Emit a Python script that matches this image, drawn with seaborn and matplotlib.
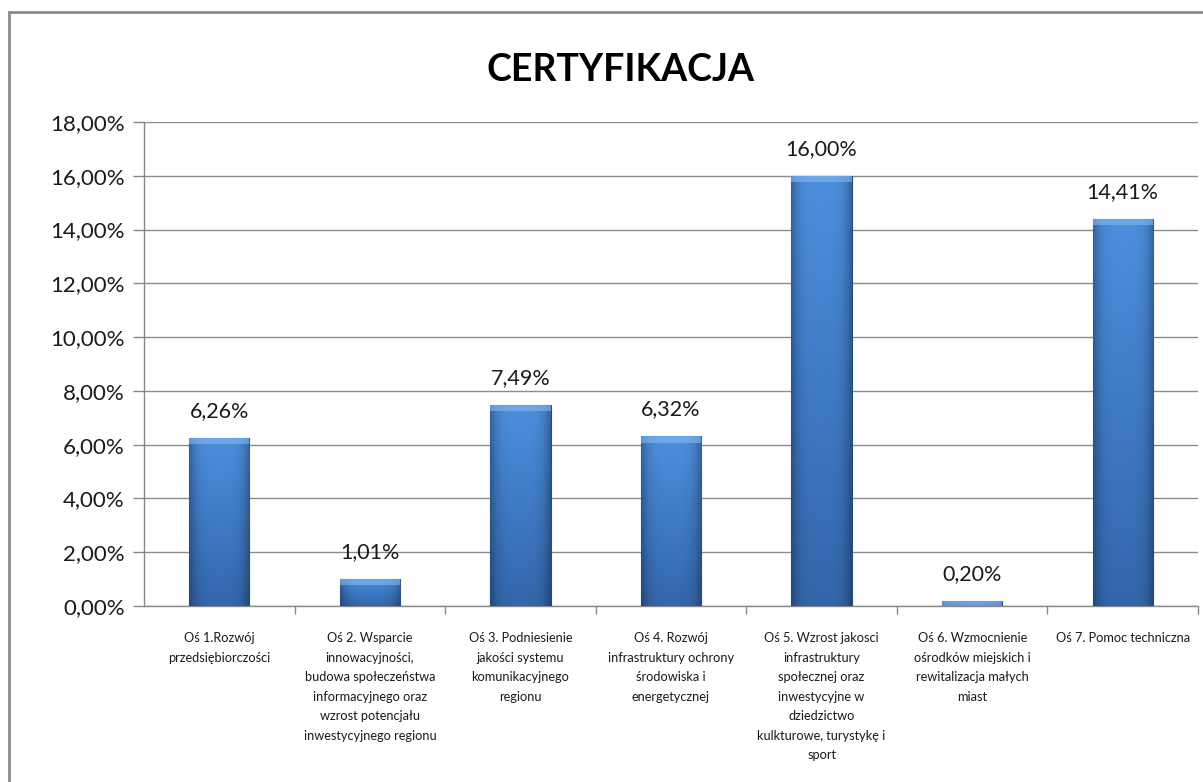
import numpy as np
import matplotlib
matplotlib.use("Agg")
import matplotlib.pyplot as plt
from matplotlib.patches import Rectangle
from matplotlib.ticker import FuncFormatter, FixedLocator
import seaborn as sns

# data
categories = [
    "Oś 1.Rozwój\nprzedsiębiorczości",
    "Oś 2. Wsparcie\ninnowacyjności,\nbudowa społeczeństwa\ninformacyjnego oraz\nwzrost potencjału\ninwestycyjnego regionu",
    "Oś 3. Podniesienie\njakości systemu\nkomunikacyjnego\nregionu",
    "Oś 4. Rozwój\ninfrastruktury ochrony\nśrodowiska i\nenergetycznej",
    "Oś 5. Wzrost jakosci\ninfrastruktury\nspołecznej oraz\ninwestycyjne w\ndziedzictwo\nkulkturowe, turystykę i\nsport",
    "Oś 6. Wzmocnienie\nośrodków miejskich i\nrewitalizacja małych\nmiast",
    "Oś 7. Pomoc techniczna",
]
values = [0.0626, 0.0101, 0.0749, 0.0632, 0.1600, 0.0020, 0.1441]
title = "CERTYFIKACJA"
y_ticks = [0, 0.02, 0.04, 0.06, 0.08, 0.10, 0.12, 0.14, 0.16, 0.18]

sns.set_style("white")
plt.rcParams['font.family'] = ['Lato', 'DejaVu Sans']

def pct(v, pos=None):
    return f"{v*100:.2f}%".replace(".", ",")

fig = plt.figure(figsize=(12.03, 7.82), dpi=100)
ax = fig.add_axes([144/1203, 1-606/782, (1198-144)/1203, (606-122)/782])

sns.barplot(x=list(range(len(values))), y=values, width=0.4, color="#3b78c6",
            ax=ax, zorder=3)

# gradient fill inside each bar
top_c = np.array([0.30, 0.56, 0.87])
bot_c = np.array([0.20, 0.40, 0.67])
rows, cols = 64, 48
t = np.linspace(0, 1, rows)[:, None, None]
col = top_c * (1 - t) + bot_c * t
xs = np.linspace(-1, 1, cols)
shade = 1 - 0.30 * np.abs(xs) ** 4
img = np.clip(col * shade[None, :, None], 0, 1)
for p in ax.patches:
    x0, y0 = p.get_x(), p.get_y()
    w, h = p.get_width(), p.get_height()
    p.set_edgecolor("#1f4c86")
    p.set_linewidth(0.8)
    im = ax.imshow(img, extent=(x0, x0 + w, y0, y0 + h), origin="upper",
                   aspect="auto", zorder=3.5, interpolation="bilinear")
    im.set_clip_path(p)
    # light bevel on top
    bh = min(h, 0.0024)
    ax.add_patch(Rectangle((x0, y0 + h - bh), w, bh,
                           facecolor="#86b9f0", edgecolor="none", alpha=0.6,
                           zorder=3.6))

for i, v in enumerate(values):
    ax.annotate(pct(v), (i, v), xytext=(0, 12), textcoords="offset points",
                ha="center", va="bottom", fontsize=15.5, color="#1a1a1a")

ax.set_xlim(-0.5, len(values) - 0.5)
ax.set_ylim(0, 0.18)
ax.set_yticks(y_ticks)
ax.yaxis.set_major_formatter(FuncFormatter(pct))
ax.set_xticks(range(len(values)))
ax.set_xticklabels(categories, fontsize=9.2, color="#1a1a1a", linespacing=1.75)
ax.xaxis.set_minor_locator(FixedLocator([i + 0.5 for i in range(len(values))]))
ax.tick_params(axis="x", which="major", length=0, pad=19)
ax.tick_params(axis="x", which="minor", length=6, color="#888888", width=1,
               direction="out", bottom=True)
ax.tick_params(axis="y", length=8, color="#888888", width=1, direction="out",
               left=True, labelsize=16, labelcolor="#1a1a1a", pad=6)

ax.grid(axis="y", color="#8c8c8c", linewidth=1, zorder=0)
ax.set_axisbelow(True)
for s in ["top", "right"]:
    ax.spines[s].set_visible(False)
for s in ["left", "bottom"]:
    ax.spines[s].set_color("#888888")
    ax.spines[s].set_linewidth(1)
ax.set_xlabel("")
ax.set_ylabel("")

fig.text(620/1203, 1 - 70/782, title, ha="center", va="center",
         fontsize=27, fontweight="bold", color="#000000")

# outer chart frame (cropped on right and bottom)
fig.add_artist(Rectangle((9/1203, -0.05), 1.1, 1 - 12/782 + 0.05,
                         transform=fig.transFigure, fill=False,
                         edgecolor="#8a8a8a", linewidth=2))

fig.savefig("out.png", dpi=100)
